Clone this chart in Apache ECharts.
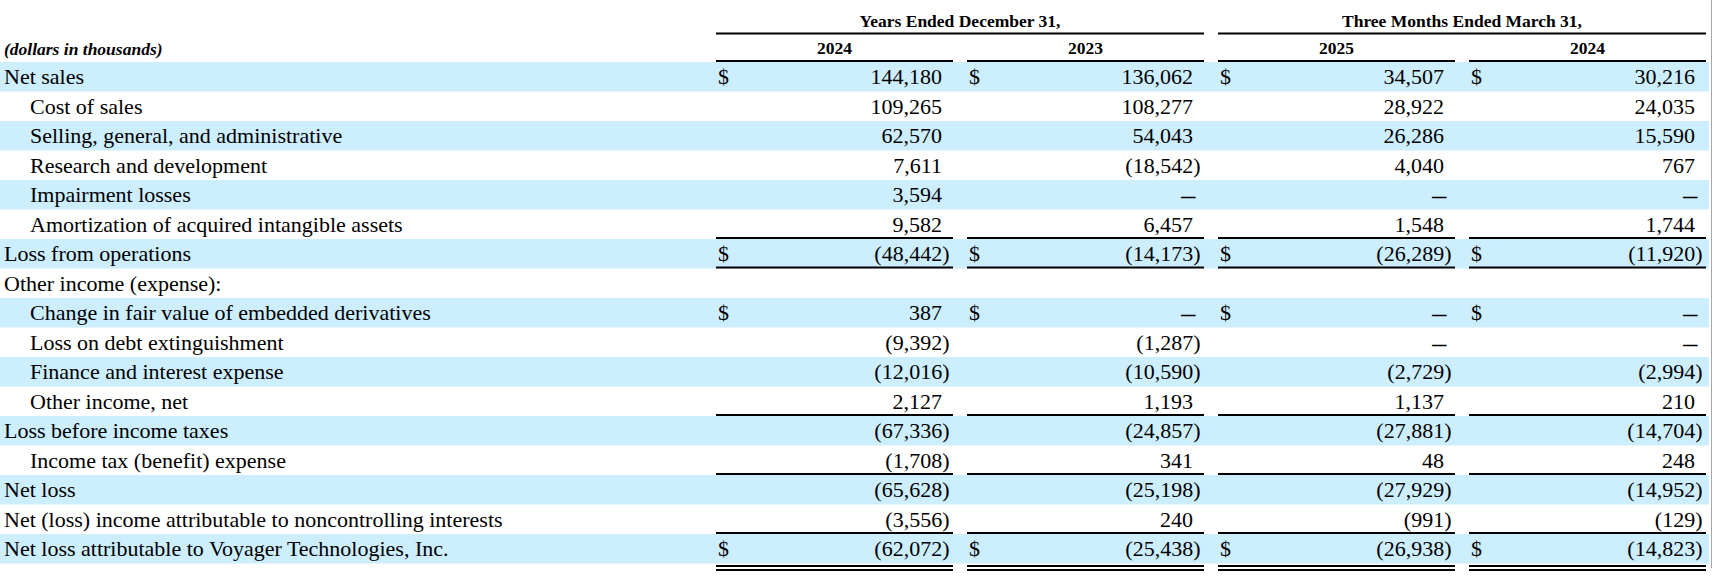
<!DOCTYPE html>
<html>
<head>
<meta charset="utf-8">
<script src="https://cdn.jsdelivr.net/npm/echarts@6/dist/echarts.min.js"></script>
<style>
  html, body { margin: 0; padding: 0; background: #fff; }
  #main { width: 1713px; height: 580px; }
</style>
</head>
<body>
<div id="main"></div>
<script>
// ---- table content ----
var groupHeaders = ['Years Ended December 31,', 'Three Months Ended March 31,'];
var yearHeaders = ['2024', '2023', '2025', '2024'];
var unitNote = '(dollars in thousands)';

var rowLabels = [
  'Net sales',
  'Cost of sales',
  'Selling, general, and administrative',
  'Research and development',
  'Impairment losses',
  'Amortization of acquired intangible assets',
  'Loss from operations',
  'Other income (expense):',
  'Change in fair value of embedded derivatives',
  'Loss on debt extinguishment',
  'Finance and interest expense',
  'Other income, net',
  'Loss before income taxes',
  'Income tax (benefit) expense',
  'Net loss',
  'Net (loss) income attributable to noncontrolling interests',
  'Net loss attributable to Voyager Technologies, Inc.'
];
var indented = [0, 1, 1, 1, 1, 1, 0, 0, 1, 1, 1, 1, 0, 1, 0, 0, 0];

// null = dash, '' = blank cell
var fy2024 = [144180, 109265, 62570, 7611, 3594, 9582, -48442, '', 387, -9392, -12016, 2127, -67336, -1708, -65628, -3556, -62072];
var fy2023 = [136062, 108277, 54043, -18542, null, 6457, -14173, '', null, -1287, -10590, 1193, -24857, 341, -25198, 240, -25438];
var q2025 = [34507, 28922, 26286, 4040, null, 1548, -26289, '', null, null, -2729, 1137, -27881, 48, -27929, -991, -26938];
var q2024 = [30216, 24035, 15590, 767, null, 1744, -11920, '', null, null, -2994, 210, -14704, 248, -14952, -129, -14823];

var dollarRows = [0, 6, 8, 16];
var ruleAfter = [5, 6, 11, 13, 15];
var doubleRuleAfter = [16];

var columns = [fy2024, fy2023, q2025, q2024];

// ---- layout (x axis runs 0..1713, so one unit is one pixel) ----
var colStart = [716, 967, 1218, 1469];
var colWidth = 237;
var groupSpan = [[716, 1204], [1218, 1706]];
var bandEnd = 1709;
var rowPitch = 29.5;
var headerRows = 2;
var band = '#cceeff';
var serif = '"Liberation Serif", "Times New Roman", serif';

var categories = ['', ''].concat(rowLabels);

function fmt(v) {
  var s = Math.abs(v).toLocaleString('en-US');
  return v < 0 ? '(' + s + ')' : s;
}

function txt(text, x, y, opt) {
  opt = opt || {};
  var style = {
    text: text,
    x: x,
    y: y,
    fill: '#000',
    fontFamily: serif,
    fontSize: opt.size || 22,
    fontWeight: opt.weight || 'normal',
    fontStyle: opt.style || 'normal',
    align: opt.align || 'left',
    verticalAlign: 'middle'
  };
  if (opt.stroke) {
    style.stroke = '#000';
    style.lineWidth = opt.stroke;
  }
  return { type: 'text', style: style };
}

function rule(x0, x1, y) {
  return { type: 'rect', shape: { x: x0, y: y, width: x1 - x0, height: 2 }, style: { fill: '#000' } };
}

function renderItem(params, api) {
  var i = api.value(1);
  var y = api.coord([0, i])[1];
  var h = api.size([0, 1])[1];
  var top = y - h / 2;
  var bottom = y + h / 2;
  var px = function (x) { return api.coord([x, i])[0]; };
  var kids = [];
  var c;

  if (i === 0) {
    for (c = 0; c < groupHeaders.length; c++) {
      var g = groupSpan[c];
      kids.push(txt(groupHeaders[c], px((g[0] + g[1]) / 2), y + 3, { size: 17.5, weight: 'bold', align: 'center' }));
      kids.push(rule(px(g[0]), px(g[1]), bottom));
    }
  } else if (i === 1) {
    kids.push(txt(unitNote, px(4), y + 1.5, { size: 17.5, weight: 'bold', style: 'italic' }));
    for (c = 0; c < yearHeaders.length; c++) {
      kids.push(txt(yearHeaders[c], px(colStart[c] + colWidth / 2), y + 1, { size: 17.5, weight: 'bold', align: 'center' }));
      kids.push(rule(px(colStart[c]), px(colStart[c] + colWidth), bottom - 2));
    }
  } else {
    var r = i - headerRows;
    if (r % 2 === 0) {
      kids.push({ type: 'rect', shape: { x: px(0), y: top, width: px(bandEnd) - px(0), height: h }, style: { fill: band } });
    }
    kids.push(txt(rowLabels[r], px(indented[r] ? 30 : 4), y));
    for (c = 0; c < columns.length; c++) {
      var v = columns[c][r];
      var end = colStart[c] + colWidth;
      if (dollarRows.indexOf(r) >= 0) {
        kids.push(txt('$', px(colStart[c] + 2), y));
      }
      if (v === null) {
        kids.push(txt('\u2014', px(end - 9), y + 1, { size: 13.5, align: 'right', stroke: 0.9 }));
      } else if (v !== '') {
        kids.push(txt(fmt(v), px(v < 0 ? end - 3.5 : end - 11), y, { align: 'right' }));
      }
      if (ruleAfter.indexOf(r) >= 0) {
        kids.push(rule(px(colStart[c]), px(end), bottom - 2));
      }
      if (doubleRuleAfter.indexOf(r) >= 0) {
        kids.push(rule(px(colStart[c]), px(end), bottom + 1.5));
        kids.push(rule(px(colStart[c]), px(end), bottom + 5.5));
      }
    }
  }
  return { type: 'group', children: kids };
}

var chart = echarts.init(document.getElementById('main'), null, { renderer: 'svg' });

chart.setOption({
  animation: false,
  grid: { left: 0, right: 0, top: 62 - headerRows * rowPitch, height: categories.length * rowPitch },
  xAxis: { type: 'value', min: 0, max: 1713, show: false },
  yAxis: { type: 'category', data: categories, inverse: true, show: false },
  graphic: [{
    type: 'line',
    shape: { x1: 1711.5, y1: 0, x2: 1711.5, y2: 568 },
    style: { stroke: '#a6a6a6', lineWidth: 1 },
    silent: true
  }],
  series: [{
    type: 'custom',
    renderItem: renderItem,
    clip: false,
    silent: true,
    encode: { x: 0, y: 1 },
    data: categories.map(function (_, k) { return [0, k]; })
  }]
});
</script>
</body>
</html>
